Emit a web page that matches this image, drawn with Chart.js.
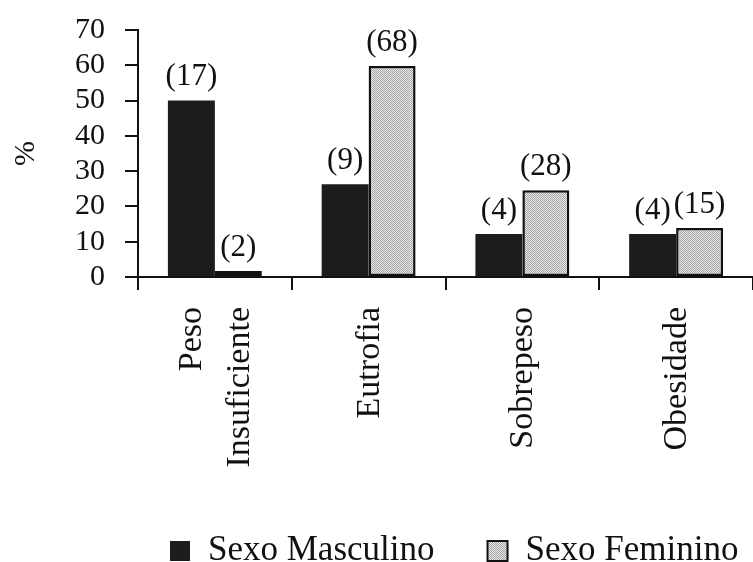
<!DOCTYPE html>
<html>
<head>
<meta charset="utf-8">
<script src="https://cdn.jsdelivr.net/npm/chart.js"></script>
<style>
  body { margin: 0; background: #fff; }
  #wrap { width: 753px; height: 562px; }
</style>
</head>
<body>
<div id="wrap"><canvas id="myChart" width="753" height="562"></canvas></div>
<script>
// Categories (multi-line labels are arrays)
const categories = [['Peso', 'Insuficiente'], 'Eutrofia', 'Sobrepeso', 'Obesidade'];
// Percentages
const masculino = [50, 26.3, 12.2, 12.2];
const feminino = [1.7, 59.8, 24.6, 13.9];
// Counts shown above the bars
const nMasculino = [17, 9, 4, 4];
const nFeminino = [2, 68, 28, 15];
// Y axis
const yMax = 70;
const yStep = 10;
const seriesNames = ['Sexo Masculino', 'Sexo Feminino'];

const serif = "'Liberation Serif', 'Times New Roman', serif";

// dotted light-grey fill like the original print
function makeDots() {
    const c = document.createElement('canvas');
    c.width = 2; c.height = 2;
    const g = c.getContext('2d');
    g.fillStyle = '#e8e8e8';
    g.fillRect(0, 0, 2, 2);
    g.fillStyle = '#a6a6a6';
    g.fillRect(0, 0, 1, 1);
    g.fillRect(1, 1, 1, 1);
    return g.createPattern(c, 'repeat');
}
const dots = makeDots();

// "(n)" above each bar
const countLabels = {
    id: 'countLabels',
    afterDatasetsDraw(chart) {
        const ctx = chart.ctx;
        const counts = [nMasculino, nFeminino];
        ctx.save();
        ctx.font = '31px ' + serif;
        ctx.fillStyle = '#111';
        ctx.textAlign = 'center';
        ctx.textBaseline = 'bottom';
        chart.data.datasets.forEach((ds, i) => {
            chart.getDatasetMeta(i).data.forEach((bar, j) => {
                ctx.fillText('(' + counts[i][j] + ')', bar.x, bar.y - 8);
            });
        });
        ctx.restore();
    }
};

// rotated category labels, multi-line blocks centred on the category
const catLabels = {
    id: 'catLabels',
    afterDraw(chart) {
        const ctx = chart.ctx;
        const xs = chart.scales.x;
        const lineH = 48;
        ctx.save();
        ctx.font = '34px ' + serif;
        ctx.fillStyle = '#111';
        ctx.textAlign = 'right';
        ctx.textBaseline = 'alphabetic';
        categories.forEach((lab, i) => {
            const lines = Array.isArray(lab) ? lab : [lab];
            const px = xs.getPixelForValue(i);
            lines.forEach((line, j) => {
                const cx = px + 10 + (j - (lines.length - 1) / 2) * lineH;
                ctx.save();
                ctx.translate(cx, chart.chartArea.bottom + 30);
                ctx.rotate(-Math.PI / 2);
                ctx.fillText(line, 0, 0);
                ctx.restore();
            });
        });
        ctx.restore();
    }
};

// legend row at the bottom
const bottomLegend = {
    id: 'bottomLegend',
    afterDraw(chart) {
        const ctx = chart.ctx;
        const box = 20;
        const y = 551;
        let x = chart.chartArea.left + 32;
        ctx.save();
        ctx.font = '35px ' + serif;
        ctx.textBaseline = 'middle';
        ctx.textAlign = 'left';
        chart.data.datasets.forEach((ds) => {
            ctx.fillStyle = ds.backgroundColor;
            ctx.fillRect(x, y - box / 2, box, box);
            if (ds.borderWidth) {
                ctx.strokeStyle = '#111';
                ctx.lineWidth = 2;
                ctx.strokeRect(x, y - box / 2, box, box);
            }
            ctx.fillStyle = '#111';
            ctx.fillText(ds.label, x + 38, y);
            x += 38 + ctx.measureText(ds.label).width + 53;
        });
        ctx.restore();
    }
};

const ctx = document.getElementById('myChart');

new Chart(ctx, {
    type: 'bar',
    data: {
        labels: categories,
        datasets: [{
            label: seriesNames[0],
            data: masculino,
            backgroundColor: '#1c1c1c',
            borderWidth: 0
        }, {
            label: seriesNames[1],
            data: feminino,
            backgroundColor: dots,
            borderColor: '#111',
            borderWidth: 2.5,
            borderSkipped: false
        }]
    },
    options: {
        responsive: false,
        animation: false,
        devicePixelRatio: 1,
        categoryPercentage: 0.611,
        barPercentage: 1,
        layout: { padding: { top: 30, right: 0, bottom: 0, left: 0 } },
        plugins: {
            legend: { display: false },
            tooltip: { enabled: false }
        },
        scales: {
            x: {
                offset: true,
                afterFit: (scale) => { scale.height = 285; },
                border: { display: true, color: '#111', width: 2 },
                grid: {
                    offset: true,
                    drawOnChartArea: false,
                    drawTicks: true,
                    tickLength: 13,
                    color: '#111',
                    lineWidth: 2
                },
                ticks: { display: false }
            },
            y: {
                min: 0,
                max: yMax,
                afterFit: (scale) => {
                    scale.width = 138;
                    scale.paddingTop = 0;
                    scale.paddingBottom = 0;
                },
                border: { display: true, color: '#111', width: 2 },
                grid: {
                    drawOnChartArea: false,
                    drawTicks: true,
                    tickLength: 13,
                    color: '#111',
                    lineWidth: 2
                },
                ticks: {
                    stepSize: yStep,
                    autoSkip: false,
                    padding: 20,
                    color: '#111',
                    font: { family: serif, size: 30 }
                },
                title: {
                    display: true,
                    text: '%',
                    color: '#111',
                    padding: { top: 8, bottom: 0 },
                    font: { family: serif, size: 30 }
                }
            }
        }
    },
    plugins: [countLabels, catLabels, bottomLegend]
});
</script>
</body>
</html>
